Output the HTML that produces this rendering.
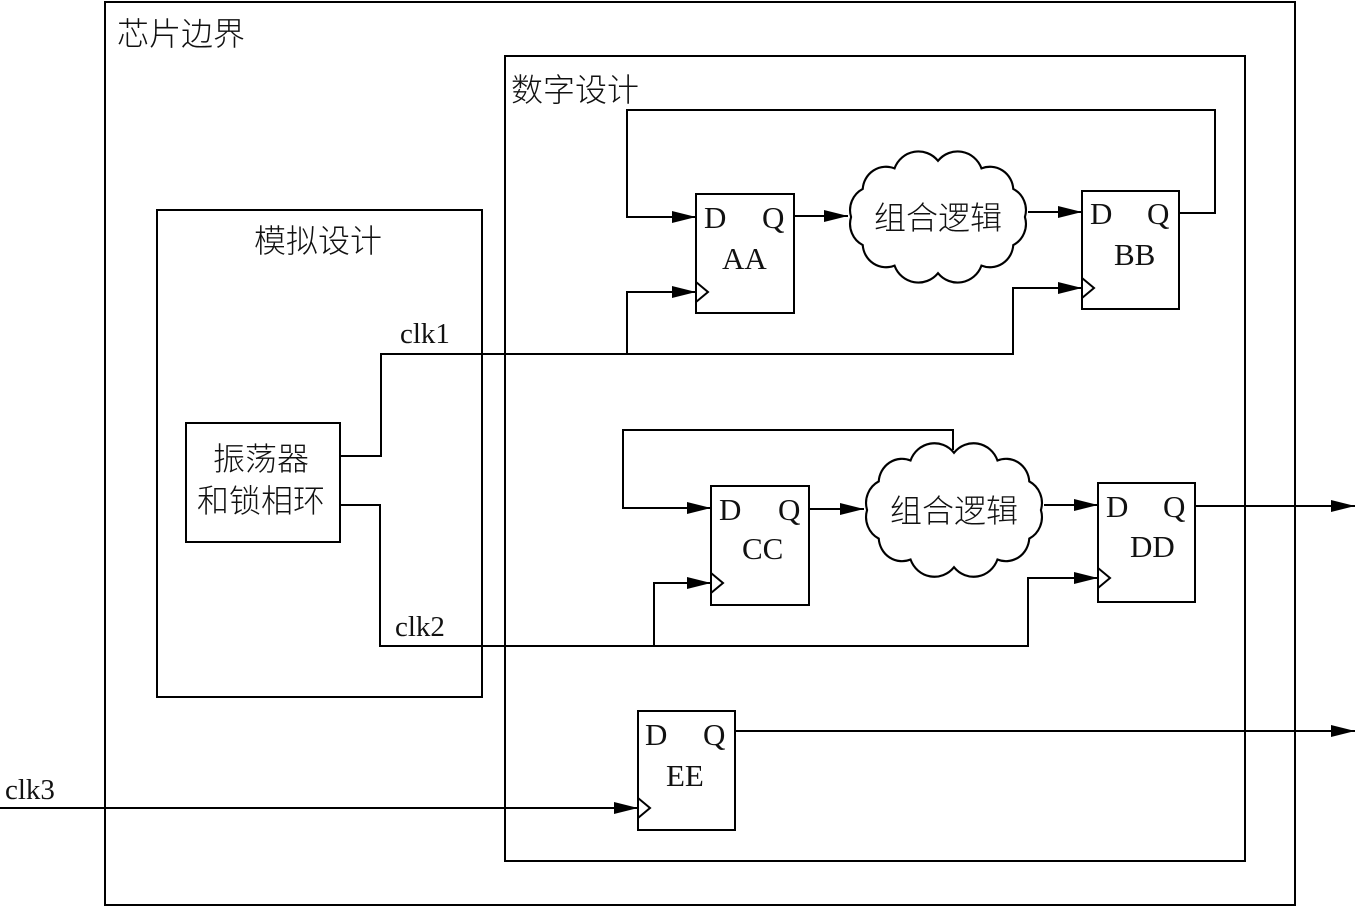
<!DOCTYPE html>
<html><head><meta charset="utf-8"><style>
html,body{margin:0;padding:0;background:#fff;}
svg text{font-family:"Liberation Serif","Noto Serif CJK SC",serif;fill:#111;}
.cj{font-family:"Liberation Sans","Noto Sans CJK SC",sans-serif;font-weight:300;}
</style></head><body>
<svg width="1369" height="907" viewBox="0 0 1369 907" xmlns="http://www.w3.org/2000/svg">
<defs>
<marker id="a" markerWidth="24" markerHeight="12" refX="24" refY="6" orient="auto" markerUnits="userSpaceOnUse">
<path d="M0,0 L24,6 L0,12 Z" fill="#000"/></marker>
<path id="cloud" d="M82,0 A22,22 0 0 1 71,26 A22,22 0 0 1 41,45 A24,24 0 0 1 0,52 A24,24 0 0 1 -41,45 A22,22 0 0 1 -71,26 A22,22 0 0 1 -82,0 A22,22 0 0 1 -71,-26 A22,22 0 0 1 -41,-45 A24,24 0 0 1 0,-52 A24,24 0 0 1 41,-45 A22,22 0 0 1 71,-26 A22,22 0 0 1 82,0 Z"/>
</defs>
<g fill="none" stroke="#000" stroke-width="2">
<rect x="105" y="2" width="1190" height="903"/>
<rect x="505" y="56" width="740" height="805"/>
<rect x="157" y="210" width="325" height="487"/>
<rect x="186" y="423" width="154" height="119"/>
<rect x="696" y="194" width="98" height="119"/>
<rect x="1082" y="191" width="97" height="118"/>
<rect x="711" y="486" width="98" height="119"/>
<rect x="1098" y="483" width="97" height="119"/>
<rect x="638" y="711" width="97" height="119"/>
<path d="M696,282 L708,292 L696,302"/>
<path d="M1082,278 L1094,288 L1082,298"/>
<path d="M711,573 L723,583 L711,593"/>
<path d="M1098,568 L1110,578 L1098,588"/>
<path d="M638,798 L650,808 L638,818"/>
<use href="#cloud" transform="translate(938,217) scale(1.06,1.08)" fill="#fff"/>
<use href="#cloud" transform="translate(954,510) scale(1.06,1.1)" fill="#fff"/>
<path d="M340,456 H381 V354 H1013 V288 H1082" marker-end="url(#a)"/>
<path d="M627,354 V292 H696" marker-end="url(#a)"/>
<path d="M1179,213 H1215 V110 H627 V217 H696" marker-end="url(#a)"/>
<path d="M794,216 H848" marker-end="url(#a)"/>
<path d="M1028,212 H1082" marker-end="url(#a)"/>
<path d="M340,505 H380 V646 H1028 V578 H1098" marker-end="url(#a)"/>
<path d="M654,646 V583 H711" marker-end="url(#a)"/>
<path d="M953,450 V430 H623 V508 H711" marker-end="url(#a)"/>
<path d="M809,509 H864" marker-end="url(#a)"/>
<path d="M1044,505 H1098" marker-end="url(#a)"/>
<path d="M1195,506 H1355" marker-end="url(#a)"/>
<path d="M735,731 H1355" marker-end="url(#a)"/>
<path d="M0,808 H638" marker-end="url(#a)"/>
</g>
<g font-size="32">
<text class="cj" x="117" y="45">芯片边界</text>
<text class="cj" x="511" y="101">数字设计</text>
<text class="cj" x="254" y="252">模拟设计</text>
<text class="cj" x="213" y="470">振荡器</text>
<text class="cj" x="197" y="512">和锁相环</text>
<text class="cj" x="938" y="229" text-anchor="middle">组合逻辑</text>
<text class="cj" x="954" y="522" text-anchor="middle">组合逻辑</text>
</g>
<g font-size="29">
<text x="400" y="343">clk1</text>
<text x="395" y="636">clk2</text>
<text x="5" y="799">clk3</text>
</g>
<g font-size="31">
<text x="704" y="228">D</text><text x="762" y="228">Q</text><text x="722" y="269">AA</text>
<text x="1090" y="224">D</text><text x="1147" y="224">Q</text><text x="1114" y="265">BB</text>
<text x="719" y="520">D</text><text x="778" y="520">Q</text><text x="742" y="559">CC</text>
<text x="1106" y="517">D</text><text x="1163" y="517">Q</text><text x="1130" y="557">DD</text>
<text x="645" y="745">D</text><text x="703" y="745">Q</text><text x="666" y="786">EE</text>
</g>
</svg>
</body></html>
